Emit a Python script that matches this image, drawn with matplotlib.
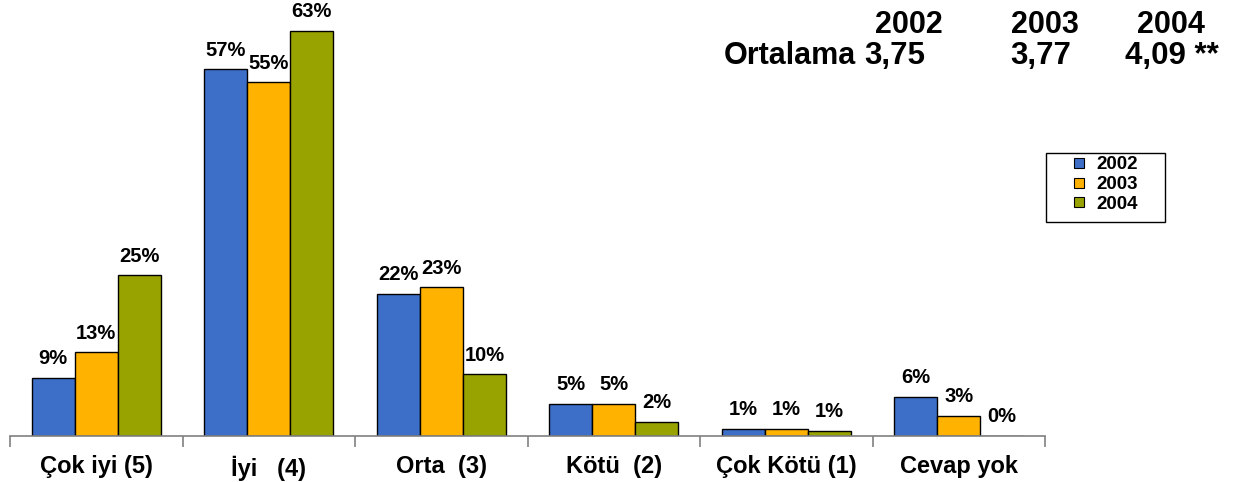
import numpy as np
import matplotlib.pyplot as plt
from matplotlib.lines import Line2D
from matplotlib.patches import Rectangle

plt.rcParams['font.family'] = ['Liberation Sans', 'DejaVu Sans']
plt.rcParams['font.weight'] = 'bold'

categories = ["Çok iyi (5)", "İyi   (4)", "Orta  (3)", "Kötü  (2)", "Çok Kötü (1)", "Cevap yok"]
years = ["2002", "2003", "2004"]
vals_2002 = [9.0, 57.0, 22.1, 5.0, 1.1, 6.1]
vals_2003 = [13.0, 55.0, 23.1, 5.0, 1.1, 3.1]
vals_2004 = [25.0, 63.0, 9.6, 2.2, 0.8, 0.0]
means = ["3,75", "3,77", "4,09 **"]

colors = ["#3D6FC8", "#FFB200", "#99A300"]

W, H = 1236, 482
fig = plt.figure(figsize=(W / 100, H / 100), dpi=100)
ymax = 70
px_per = 6.43
ax = fig.add_axes([10 / W, (H - 436) / H, 1035 / W, ymax * px_per / H])

xs = np.arange(len(categories))
width = 0.25
for i, (vals, yr) in enumerate(zip([vals_2002, vals_2003, vals_2004], years)):
    pos = xs + 0.125 + width * (i + 0.5)
    ax.bar(pos, vals, width=width, color=colors[i], edgecolor="black",
           linewidth=1, label=yr)
    for p, v in zip(pos, vals):
        ax.text(p, v + 1.5, f"{v:.0f}%", ha="center", va="bottom",
                fontsize=14.5, fontweight="bold")

ax.set_xlim(0, len(categories))
ax.set_ylim(0, ymax)
for s in ["left", "right", "top"]:
    ax.spines[s].set_visible(False)
ax.spines["bottom"].set_color("#808080")
ax.spines["bottom"].set_linewidth(1.2)
ax.set_yticks([])
ax.set_xticks(np.arange(len(categories) + 1))
ax.set_xticklabels([])
ax.tick_params(axis="x", which="major", length=8, color="#808080", width=1.2)
ax.set_xticks(xs + 0.5, minor=True)
ax.set_xticklabels(categories, minor=True, fontsize=17, fontweight="bold")
ax.tick_params(axis="x", which="minor", length=0, pad=14)

# legend with a hand-placed frame
fig.add_artist(Rectangle((1046 / W, (H - 222) / H), 119 / W, 69 / H,
                         transform=fig.transFigure, facecolor="white",
                         edgecolor="black", linewidth=1, zorder=4))
handles = [Line2D([], [], linestyle="none", marker="s", markersize=7,
                  markerfacecolor=c, markeredgecolor="black",
                  markeredgewidth=0.8) for c in colors]
leg = fig.legend(handles, years, loc="upper left",
                 bbox_to_anchor=(1072 / W, (H - 156) / H),
                 fontsize=13.5, frameon=False, handlelength=0.7,
                 handletextpad=0.6, labelspacing=0.15, borderpad=0,
                 borderaxespad=0)
leg.set_zorder(5)
for t in leg.get_texts():
    t.set_fontweight("bold")

# summary table, top right
col_x = [943, 1079, 1205]
for x, yr in zip(col_x, years):
    fig.text(x / W, (H - 33) / H, yr, ha="right", va="baseline",
             fontsize=22, fontweight="bold")
mean_x = [864, 1010, 1125]
for x, m in zip(mean_x, means):
    fig.text(x / W, (H - 64) / H, m, ha="left", va="baseline",
             fontsize=22.5, fontweight="bold")
fig.text(856 / W, (H - 64) / H, "Ortalama", ha="right", va="baseline",
         fontsize=22, fontweight="bold")

fig.savefig("out.png", dpi=100)
